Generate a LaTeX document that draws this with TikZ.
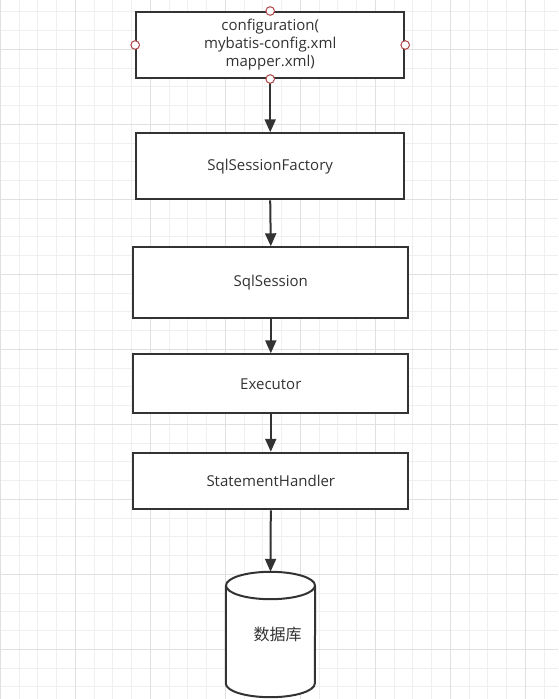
\documentclass[tikz,border=0pt]{standalone}
\usepackage{fontspec}
\setmainfont{Open Sans}
\newfontfamily\cjk{Noto Sans CJK SC}
\usetikzlibrary{arrows.meta}
\definecolor{inkgray}{HTML}{333333}
\definecolor{gridminor}{HTML}{EFEFEF}
\definecolor{gridmajor}{HTML}{E0E0E0}
\definecolor{portred}{HTML}{B04646}

\begin{document}
\begin{tikzpicture}[x=1pt,y=-1pt]
        \tikzstyle{every node}=[font=\fontsize{15}{18}\selectfont, text=inkgray]
        \tikzstyle{procbox}=[draw=inkgray, line width=2pt, fill=white, inner sep=0pt, align=center]
        \tikzstyle{flow}=[draw=inkgray, line width=2pt, -{Triangle[length=13pt,width=11pt]}]
        \tikzstyle{port}=[draw=portred, line width=1pt, fill=white]
        \useasboundingbox (0,0) rectangle (558,699);

        % background grid
        \foreach \i in {0,...,29}
            \draw[gridminor, line width=1pt] (0.3+18.75*\i,0) -- (0.3+18.75*\i,699);
        \foreach \i in {0,...,36}
            \draw[gridminor, line width=1pt] (0,11.8+18.75*\i) -- (558,11.8+18.75*\i);
        \foreach \i in {0,...,7}
            \draw[gridmajor, line width=1pt] (0.3+75*\i,0) -- (0.3+75*\i,699);
        \foreach \i in {0,...,8}
            \draw[gridmajor, line width=1pt] (0,49.3+75*\i) -- (558,49.3+75*\i);

        % boxes
        \node (config) [procbox, minimum width=268pt, minimum height=66pt] at (270.2,45)
            {configuration(\\mybatis-config.xml\\mapper.xml)};
        \node (factory) [procbox, minimum width=268pt, minimum height=66pt] at (270.2,166.3) {SqlSessionFactory};
        \node (session) [procbox, minimum width=275pt, minimum height=71pt] at (270.8,282.8) {SqlSession};
        \node (executor) [procbox, minimum width=275pt, minimum height=59pt] at (270.8,383.8) {Executor};
        \node (handler) [procbox, minimum width=275pt, minimum height=56.5pt] at (270.8,481) {StatementHandler};

        % database
        \node (db) [inner sep=0pt, minimum width=89pt, minimum height=125pt] at (270.5,634.5) {};
        \fill[white] ([yshift=-13.7pt]db.north west) rectangle ([yshift=13.7pt]db.south east);
        \draw[inkgray, line width=2pt, fill=white] ([yshift=-13.7pt]db.north west)
            -- ([yshift=13.7pt]db.south west)
            arc[start angle=180, end angle=360, x radius=44.5pt, y radius=13.7pt]
            -- ([yshift=-13.7pt]db.north east);
        \draw[inkgray, line width=2pt, fill=white] ([yshift=-13.7pt]db.north) ellipse[x radius=44.5pt, y radius=13.7pt];
        \node (dbtext) at ([xshift=7pt]db.center) {\cjk\fontsize{16}{18}\selectfont 数据库};

        % flow
        \draw[flow] (config.south) -- (factory.north);
        \draw[flow] (factory.south) -- (session.north);
        \draw[flow] (session.south) -- (executor.north);
        \draw[flow] (executor.south) -- (handler.north);
        \draw[flow] (handler.south) -- (db.north);

        % connection points
        \foreach \a in {north,south,east,west}
            \draw[port] (config.\a) circle[radius=4.3pt];
    \end{tikzpicture}
\end{document}
